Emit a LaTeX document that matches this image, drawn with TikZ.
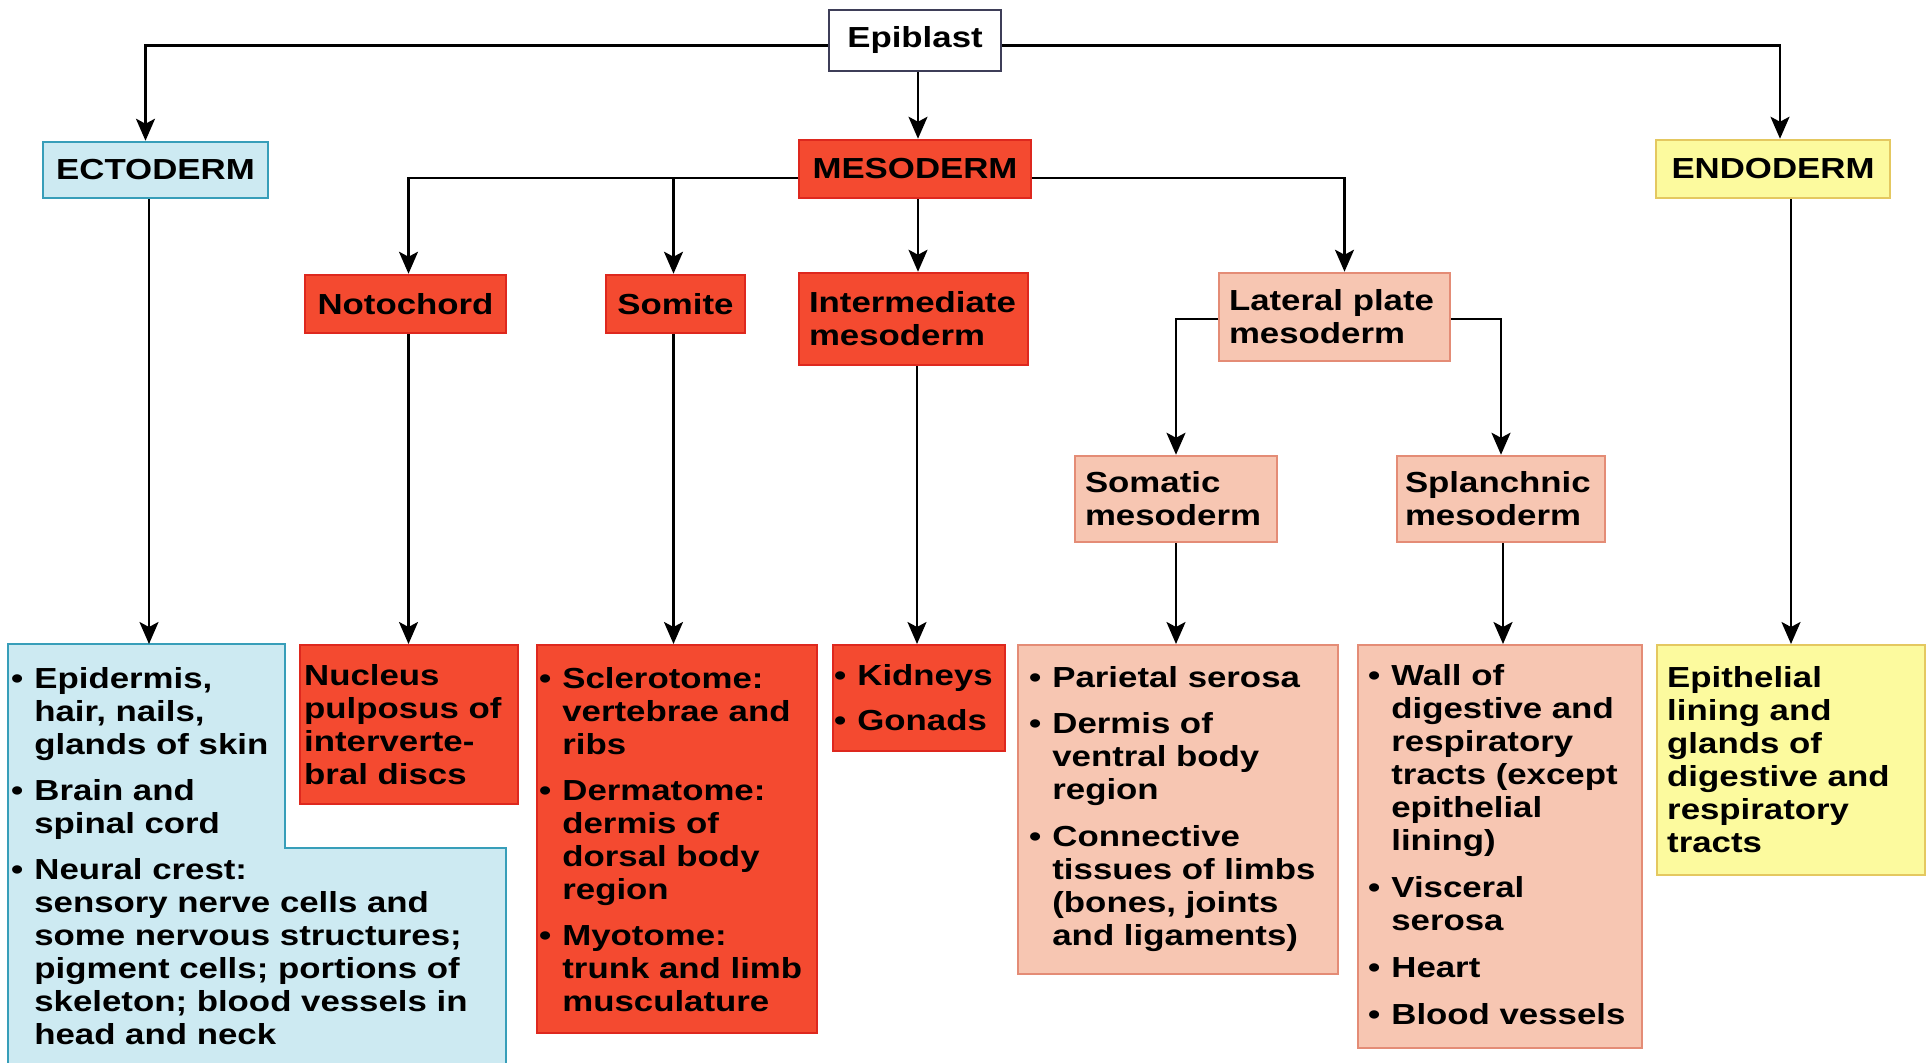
\documentclass[tikz,border=0pt]{standalone}
\usepackage{fontspec}
\setmainfont{Liberation Sans}[FakeStretch=1.2]
\usetikzlibrary{arrows.meta}
\definecolor{ectofill}{RGB}{205,234,242}
\definecolor{ectoline}{RGB}{55,158,185}
\definecolor{mesofill}{RGB}{244,74,48}
\definecolor{mesoline}{RGB}{222,40,30}
\definecolor{latfill}{RGB}{247,198,178}
\definecolor{latline}{RGB}{228,140,118}
\definecolor{endofill}{RGB}{252,250,158}
\definecolor{endoline}{RGB}{228,200,96}
\definecolor{epiline}{RGB}{62,62,88}

\begin{document}
\begin{tikzpicture}[x=1pt, y=-1pt,
	every node/.style={ font=\fontsize{29}{33}\selectfont\bfseries },
	ectocol/.style={ fill=ectofill, draw=ectoline },
	mesocol/.style={ fill=mesofill, draw=mesoline },
	latcol/.style={ fill=latfill, draw=latline },
	endocol/.style={ fill=endofill, draw=endoline },
	germ/.style={ line width=2.5pt, inner sep=0pt, minimum height=58pt },
	twoline/.style={ align=left, inner xsep=10pt },
	outbox/.style={ anchor=north west, line width=2pt, inner sep=0pt },
	list/.style={ anchor=north west, inner sep=0pt },
	arr/.style={ line width=2.5pt, -{Stealth[length=22pt, width=19pt, inset=5pt]} }
]
\useasboundingbox (0,0) rectangle (1931,1063);
\fill[white] (0,0) rectangle (1931,1063);

\node[germ, fill=white, draw=epiline, minimum width=172pt, minimum height=61pt] at (915,40.5) (epi) {Epiblast};
\node[germ, ectocol, minimum width=225pt, minimum height=56pt] at (155.5,170) (ecto) {ECTODERM};
\node[germ, mesocol, minimum width=232pt] at (915,169) (meso) {MESODERM};
\node[germ, endocol, minimum width=234pt] at (1773,169) (endo) {ENDODERM};

\node[germ, mesocol, minimum width=201pt] at (405.5,304) (noto) {Notochord};
\node[germ, mesocol, minimum width=139pt] at (675.5,304) (som) {Somite};
\node[germ, mesocol, twoline, text width=209pt, minimum height=92pt] at (913.5,319) (inter) {Intermediate\\mesoderm};
\node[germ, latcol, twoline, text width=211pt, minimum height=88pt] at (1334.5,317) (lat) {Lateral plate\\mesoderm};
\node[germ, latcol, twoline, text width=182pt, minimum height=86pt] at (1176,499) (somat) {Somatic\\mesoderm};
\node[germ, latcol, twoline, inner xsep=8pt, text width=192pt, minimum height=86pt] at (1501,499) (splan) {Splanchnic\\mesoderm};

\filldraw[ectocol, line width=2pt] (8,644) -- (285,644) -- (285,848) -- (506,848) -- (506,1075) -- (8,1075) -- cycle;
\coordinate (ectoOut) at (149,644);
\node[outbox, mesocol, minimum width=218pt, minimum height=159pt] at (299,644) (notoOut) {};
\node[outbox, mesocol, minimum width=280pt, minimum height=388pt] at (536,644) (somOut) {};
\node[outbox, mesocol, minimum width=172pt, minimum height=106pt] at (832,644) (kid) {};
\node[outbox, latcol, minimum width=320pt, minimum height=329pt] at (1017,644) (somatOut) {};
\node[outbox, latcol, minimum width=284pt, minimum height=403pt] at (1357,644) (splanOut) {};
\node[outbox, endocol, minimum width=268pt, minimum height=230pt] at (1656,644) (endoOut) {};

\node[list] at (11,665) (ectoText) {\begin{tabular}{@{}l@{\hspace{11pt}}l@{}}
\textbullet & Epidermis,\\
 & hair, nails,\\
 & glands of skin\\[13pt]
\textbullet & Brain and\\
 & spinal cord\\[13pt]
\textbullet & Neural crest:\\
 & sensory nerve cells and\\
 & some nervous structures;\\
 & pigment cells; portions of\\
 & skeleton; blood vessels in\\
 & head and neck
\end{tabular}};
\node[list] at (304,662) (notoText) {\begin{tabular}{@{}l@{}}
Nucleus\\
pulposus of\\
interverte-\\
bral discs
\end{tabular}};
\node[list] at (539,665) (somText) {\begin{tabular}{@{}l@{\hspace{11pt}}l@{}}
\textbullet & Sclerotome:\\
 & vertebrae and\\
 & ribs\\[13pt]
\textbullet & Dermatome:\\
 & dermis of\\
 & dorsal body\\
 & region\\[13pt]
\textbullet & Myotome:\\
 & trunk and limb\\
 & musculature
\end{tabular}};
\node[list] at (834,662) (kidText) {\begin{tabular}{@{}l@{\hspace{11pt}}l@{}}
\textbullet & Kidneys\\[12pt]
\textbullet & Gonads
\end{tabular}};
\node[list] at (1029,664) (somatText) {\begin{tabular}{@{}l@{\hspace{11pt}}l@{}}
\textbullet & Parietal serosa\\[13pt]
\textbullet & Dermis of\\
 & ventral body\\
 & region\\[14pt]
\textbullet & Connective\\
 & tissues of limbs\\
 & (bones, joints\\
 & and ligaments)
\end{tabular}};
\node[list] at (1368,662) (splanText) {\begin{tabular}{@{}l@{\hspace{11pt}}l@{}}
\textbullet & Wall of\\
 & digestive and\\
 & respiratory\\
 & tracts (except\\
 & epithelial\\
 & lining)\\[14pt]
\textbullet & Visceral\\
 & serosa\\[14pt]
\textbullet & Heart\\[14pt]
\textbullet & Blood vessels
\end{tabular}};
\node[list] at (1667,664) (endoText) {\begin{tabular}{@{}l@{}}
Epithelial\\
lining and\\
glands of\\
digestive and\\
respiratory\\
tracts
\end{tabular}};

\draw[arr] ([yshift=-5pt]epi.west) -| ([xshift=-10pt]ecto.north);
\draw[arr] ([yshift=-5pt]epi.east) -| ([xshift=7pt]endo.north);
\draw[arr] ([xshift=3pt]epi.south) -- ([xshift=3pt]meso.north);
\draw[arr] ([yshift=-9pt]meso.west) -| ([xshift=3pt]noto.north);
\draw[arr] ([yshift=-9pt]meso.west) -| ([xshift=-2pt]som.north);
\draw[arr] ([xshift=3pt]meso.south) -- ([xshift=3pt]meso.south |- inter.north);
\draw[arr] ([yshift=-9pt]meso.east) -| ([xshift=10pt]lat.north);
\draw[arr] ([yshift=-2pt]lat.west) -| (somat.north);
\draw[arr] ([yshift=-2pt]lat.east) -| (splan.north);

\draw[arr] (ecto.south -| ectoOut) -- (ectoOut);
\draw[arr] ([xshift=3pt]noto.south) -- ([xshift=3pt]noto.south |- notoOut.north);
\draw[arr] ([xshift=-2pt]som.south) -- ([xshift=-2pt]som.south |- somOut.north);
\draw[arr] ([xshift=3.5pt]inter.south) -- ([xshift=3.5pt]inter.south |- kid.north);
\draw[arr] (somat.south) -- (somat.south |- somatOut.north);
\draw[arr] ([xshift=2pt]splan.south) -- ([xshift=2pt]splan.south |- splanOut.north);
\draw[arr] (endo.south -| endoOut.north) -- (endoOut.north);

\end{tikzpicture}
\end{document}
